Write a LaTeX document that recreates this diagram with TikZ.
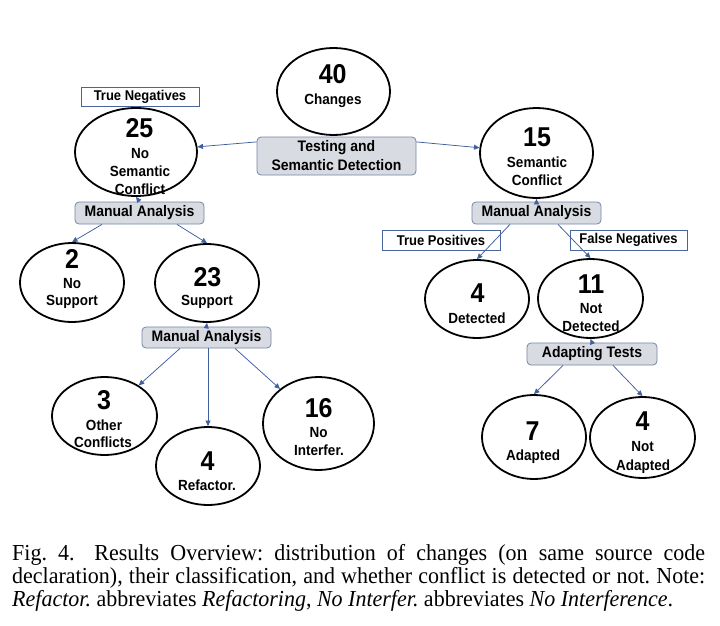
\documentclass[tikz,border=0pt]{standalone}
\usepackage{fontspec}
\setmainfont{Liberation Sans}
\newfontfamily\capfont{Liberation Serif}
\usetikzlibrary{shapes.geometric,arrows.meta,calc}
\definecolor{boxfill}{HTML}{D9DBE2}
\definecolor{boxline}{HTML}{7486A8}
\definecolor{wline}{HTML}{4A659B}
\definecolor{arrcol}{HTML}{3F5F9F}
\newcommand{\vs}[1]{\scalebox{1}[1.09]{#1}}
\newcommand{\cs}[1]{\scalebox{1}[1.04]{#1}}
\begin{document}
\begin{tikzpicture}[x=1pt,y=-1pt,
 ell/.style={draw=black,line width=1.8pt,ellipse,inner sep=0pt},
 num/.style={font=\fontsize{25}{27}\selectfont\bfseries,anchor=base,inner sep=0pt},
 lab/.style={font=\fontsize{13.5}{16}\selectfont\bfseries,anchor=base,inner sep=0pt},
 gbox/.style={draw=boxline,fill=boxfill,rounded corners=4pt,line width=0.8pt,inner sep=0pt,font=\fontsize{14}{19}\selectfont\bfseries,align=center},
 wbox/.style={draw=wline,fill=white,line width=0.8pt,inner sep=0pt,font=\fontsize{13}{15}\selectfont\bfseries},
 arr/.style={draw=arrcol,line width=0.75pt,-{Triangle[length=5.5pt,width=5pt]}},
 capt/.style={anchor=base west,inner sep=0pt,font=\capfont\fontsize{22}{23}\selectfont\frenchspacing},
]
\fill[white] (0,0) rectangle (720,626);
\useasboundingbox (0,0) rectangle (720,626);

% ellipses
\node[ell,minimum width=113pt,minimum height=87pt] (n40) at (333.5,91.5) {};
\node[ell,minimum width=122pt,minimum height=88pt] (n25) at (136,152) {};
\node[ell,minimum width=113pt,minimum height=90pt] (n15) at (536.5,153) {};
\node[ell,minimum width=104pt,minimum height=79pt] (n2) at (72,282.5) {};
\node[ell,minimum width=104pt,minimum height=78pt] (n23) at (207,283) {};
\node[ell,minimum width=104pt,minimum height=78pt] (n4d) at (477,299) {};
\node[ell,minimum width=105pt,minimum height=79pt] (n11) at (590.5,298.5) {};
\node[ell,minimum width=105pt,minimum height=78pt] (n3) at (104.5,416) {};
\node[ell,minimum width=104pt,minimum height=78pt] (n4r) at (208,466) {};
\node[ell,minimum width=111pt,minimum height=93pt] (n16) at (318.5,423.5) {};
\node[ell,minimum width=104pt,minimum height=84pt] (n7) at (534,437) {};
\node[ell,minimum width=105pt,minimum height=81pt] (n4n) at (642.5,437.5) {};

% ellipse texts
\node[num] (t40n) at (332.7,83) {\vs{40}};
\node[lab] (t40a) at (333,104) {\vs{Changes}};
\node[num] (t25n) at (139.5,137) {\vs{25}};
\node[lab] (t25a) at (140,158) {\vs{No}};
\node[lab] (t25b) at (140,176) {\vs{Semantic}};
\node[lab] (t25c) at (140,194) {\vs{Conflict}};
\node[num] (t15n) at (537,146) {\vs{15}};
\node[lab] (t15a) at (537,167) {\vs{Semantic}};
\node[lab] (t15b) at (537,185) {\vs{Conflict}};
\node[num] (t2n) at (72,268) {\vs{2}};
\node[lab] (t2a) at (72,288) {\vs{No}};
\node[lab] (t2b) at (72,305) {\vs{Support}};
\node[num] (t23n) at (207.5,286) {\vs{23}};
\node[lab] (t23a) at (207,305) {\vs{Support}};
\node[num] (t4dn) at (477.5,302) {\vs{4}};
\node[lab] (t4da) at (477,323) {\vs{Detected}};
\node[num] (t11n) at (591,293) {\vs{11}};
\node[lab] (t11a) at (591,313) {\vs{Not}};
\node[lab] (t11b) at (591,331) {\vs{Detected}};
\node[num] (t3n) at (104,409) {\vs{3}};
\node[lab] (t3a) at (104,430) {\vs{Other}};
\node[lab] (t3b) at (103,447) {\vs{Conflicts}};
\node[num] (t4rn) at (207.5,470) {\vs{4}};
\node[lab] (t4ra) at (207,490) {\vs{Refactor.}};
\node[num] (t16n) at (318.7,417) {\vs{16}};
\node[lab] (t16a) at (318.5,437) {\vs{No}};
\node[lab] (t16b) at (319,455) {\vs{Interfer.}};
\node[num] (t7n) at (532.5,440) {\vs{7}};
\node[lab] (t7a) at (533,460) {\vs{Adapted}};
\node[num] (t4nn) at (642.5,430) {\vs{4}};
\node[lab] (t4na) at (642.7,451) {\vs{Not}};
\node[lab] (t4nb) at (643,470) {\vs{Adapted}};

% boxes
\node[wbox,minimum width=118pt,minimum height=19pt] (tn) at (140,96.5) {\vs{True Negatives}};
\node[gbox,minimum width=159pt,minimum height=38pt] (tsd) at (336.5,156) {\vs{Testing and}\\\vs{Semantic Detection}};
\node[gbox,minimum width=129pt,minimum height=22pt] (ma1) at (139.5,213) {\vs{Manual Analysis}};
\node[gbox,minimum width=129pt,minimum height=22pt] (ma2) at (536.5,213) {\vs{Manual Analysis}};
\node[wbox,minimum width=118pt,minimum height=20pt] (tp) at (441,240) {\vs{True Positives}};
\node[wbox,minimum width=117pt,minimum height=20pt] (fn) at (628.5,240) {\vs{False Negatives}};
\node[gbox,minimum width=129pt,minimum height=21pt] (ma3) at (206.5,337.5) {\vs{Manual Analysis}};
\node[gbox,minimum width=130pt,minimum height=22pt] (adt) at (592,354) {\vs{Adapting Tests}};

% connectors
\draw[arr] (tsd.170) -- (n25);
\draw[arr] (tsd.10) -- (n15);
\draw[arr] (ma1.north) -- (n25.south);
\draw[arr] (ma2.north) -- (n15.south);
\draw[arr] (ma3.north) -- (n23.south);
\draw[arr] (adt.north) -- (n11.south);
\draw[arr] ($(ma1.south)+(-37.5,0)$) -- (n2.north);
\draw[arr] ($(ma1.south)+(37.5,0)$) -- (n23.north);
\draw[arr] ($(ma2.south)+(-26.5,0)$) -- (n4d.north);
\draw[arr] ($(ma2.south)+(21.5,0)$) -- (n11.north);
\draw[arr] ($(ma3.south)+(-26.5,0)$) -- (n3);
\draw[arr] ($(ma3.south)+(1.5,0)$) -- (n4r.north);
\draw[arr] ($(ma3.south)+(28.5,0)$) -- (n16);
\draw[arr] ($(adt.south)+(-29,0)$) -- (n7.north);
\draw[arr] ($(adt.south)+(21,0)$) -- (n4n.north);

% caption
\node[capt] (cap1) at (12,560) {\cs{\makebox[693pt][s]{Fig. 4.\hspace{0.9em}Results Overview: distribution of changes (on same source code}}};
\node[capt] (cap2) at (12,583) {\cs{\makebox[693pt][s]{declaration), their classification, and whether conflict is detected or not. Note:}}};
\node[capt] (cap3) at (12,606) {\cs{\textit{Refactor.} abbreviates \textit{Refactoring}, \textit{No Interfer.} abbreviates \textit{No Interference}.}};
\end{tikzpicture}
\end{document}
